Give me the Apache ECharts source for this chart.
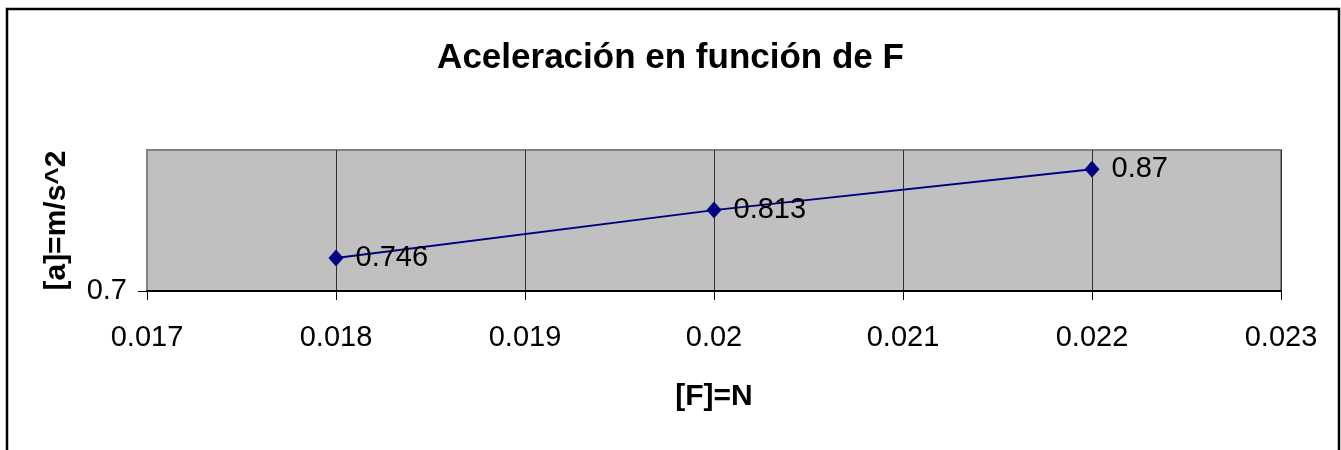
<!DOCTYPE html>
<html>
<head>
<meta charset="utf-8">
<script src="https://cdn.jsdelivr.net/npm/echarts@6/dist/echarts.min.js"></script>
<style>
  html, body { margin: 0; padding: 0; background: #fff; }
  #chart { width: 1341px; height: 450px; }
</style>
</head>
<body>
<div id="chart"></div>
<script>
// fuerza en N, aceleración en m/s^2
const fuerza = [0.018, 0.02, 0.022];
const aceleracion = [0.746, 0.813, 0.87];
const yTicks = [0.7];

const font = '"Liberation Sans", Arial, sans-serif';

let chart = echarts.init(document.getElementById('chart'));

let option = {
    backgroundColor: '#fff',
    animation: false,
    title: {
        text: 'Aceleración en función de F',
        left: 'center',
        top: 36,
        textStyle: { fontFamily: font, fontSize: 35, fontWeight: 'bold', color: '#000' }
    },
    graphic: [{
        type: 'rect',
        shape: { x: 7, y: 9, width: 1332, height: 500 },
        style: { fill: 'none', stroke: '#000', lineWidth: 2.5 },
        z: 10
    }],
    grid: {
        left: 147, right: 60, top: 150, bottom: 159,
        show: true,
        backgroundColor: '#c0c0c0',
        borderColor: '#808080',
        borderWidth: 2
    },
    xAxis: {
        type: 'value',
        min: 0.017, max: 0.023, interval: 0.001,
        name: '[F]=N',
        nameLocation: 'middle',
        nameGap: 91,
        nameTextStyle: { fontFamily: font, fontSize: 30, fontWeight: 'bold', color: '#000' },
        axisLine: { lineStyle: { color: '#000', width: 2 } },
        axisTick: { show: true, length: 9, lineStyle: { color: '#000', width: 1 } },
        axisLabel: { fontFamily: font, fontSize: 29, color: '#000', margin: 32 },
        splitLine: { show: true, lineStyle: { color: '#303030', width: 1 } }
    },
    yAxis: {
        type: 'value',
        min: 0.7, max: 0.897,
        name: '[a]=m/s^2',
        nameLocation: 'middle',
        nameGap: 75,
        nameTextStyle: { fontFamily: font, fontSize: 30, fontWeight: 'bold', color: '#000' },
        axisLine: { show: true, lineStyle: { color: '#808080', width: 2 } },
        axisTick: { show: true, length: 9, customValues: yTicks, lineStyle: { color: '#000', width: 1 } },
        axisLabel: { fontFamily: font, fontSize: 29, color: '#000', margin: 20, customValues: yTicks },
        splitLine: { show: false }
    },
    series: [{
        type: 'line',
        data: fuerza.map((f, i) => [f, aceleracion[i]]),
        symbol: 'diamond',
        symbolSize: [15, 17],
        itemStyle: { color: '#000080' },
        lineStyle: { color: '#000080', width: 2 },
        label: {
            show: true,
            position: 'right',
            distance: 12,
            fontFamily: font,
            fontSize: 29,
            color: '#000',
            formatter: p => String(p.value[1])
        }
    }]
};

chart.setOption(option);
</script>
</body>
</html>
